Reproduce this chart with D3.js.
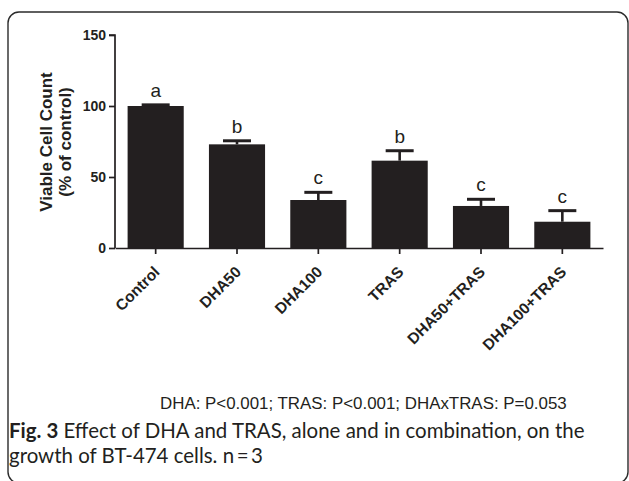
<!DOCTYPE html>
<html><head><meta charset="utf-8">
<script src="https://cdn.jsdelivr.net/npm/d3@7"></script>
<style>body{margin:0;background:#fff}svg{display:block}</style>
</head><body>
<svg id="c" width="629" height="481"></svg>
<script>
const categories = ["Control","DHA50","DHA100","TRAS","DHA50+TRAS","DHA100+TRAS"];
const means = [100, 73, 33.8, 61.5, 29.6, 18.5];
const errors = [0.8, 2.5, 5.4, 7.0, 4.7, 7.8];
const letters = ["a","b","c","b","c","c"];
const yTicks = [0, 50, 100, 150];
const statsText = "DHA: P<0.001; TRAS: P<0.001; DHAxTRAS: P=0.053";
const captionBold = "Fig. 3";
const captionLine1 = " Effect of DHA and TRAS, alone and in combination, on the";
const captionLine2 = "growth of BT-474 cells. n\u2009=\u20093";

const ink = "#231f20";
const sans = "Liberation Sans, Arial, Helvetica, sans-serif";
const svg = d3.select("#c");

// frame (bottom edge falls just outside the picture, as in the figure crop)
svg.append("rect").attr("x",8).attr("y",12).attr("width",620).attr("height",471)
  .attr("rx",11).attr("fill","none").attr("stroke","#2b2b2b").attr("stroke-width",1.4);

const x = d3.scaleBand().domain(categories).range([115,603]).paddingInner(0.31).paddingOuter(0.155);
const y = d3.scaleLinear().domain([0,150]).range([248,35]);

const g = svg.append("g");

// bars
g.selectAll("rect.bar").data(categories).join("rect").attr("class","bar")
  .attr("x",d=>x(d)).attr("width",x.bandwidth())
  .attr("y",(d,i)=>y(means[i])).attr("height",(d,i)=>y(0)-y(means[i]))
  .attr("fill",ink);

// error bars (upper only) + significance letters
const capW = 28;
categories.forEach((c,i)=>{
  const cx = x(c)+x.bandwidth()/2;
  const top = y(means[i]+errors[i]);
  g.append("line").attr("x1",cx).attr("x2",cx).attr("y1",y(means[i])).attr("y2",top)
    .attr("stroke",ink).attr("stroke-width",2.6);
  g.append("line").attr("x1",cx-capW/2).attr("x2",cx+capW/2).attr("y1",top).attr("y2",top)
    .attr("stroke",ink).attr("stroke-width",3);
  g.append("text").attr("x",cx).attr("y",top-8)
    .attr("text-anchor","middle").attr("font-family",sans)
    .attr("font-size",19).attr("fill",ink).text(letters[i]);
});

// y axis
const yAxis = g.append("g").attr("transform","translate(115,0)")
  .call(d3.axisLeft(y).tickValues(yTicks).tickSize(6).tickPadding(3).tickFormat(d3.format("d")));
yAxis.select(".domain").attr("stroke",ink).attr("stroke-width",1.7).attr("d","M-6,"+y(150)+"H0V"+y(0));
yAxis.selectAll(".tick line").attr("stroke",ink).attr("stroke-width",1.7);
yAxis.selectAll(".tick text").attr("font-family",sans)
  .attr("font-weight","bold").attr("font-size",14).attr("fill",ink);

// x axis
const xAxis = g.append("g").attr("transform","translate(0,"+y(0)+")")
  .call(d3.axisBottom(x).tickSize(6).tickSizeOuter(0));
xAxis.select(".domain").attr("stroke",ink).attr("stroke-width",1.7);
xAxis.selectAll(".tick line").attr("stroke",ink).attr("stroke-width",1.7);
xAxis.selectAll(".tick text").attr("font-family",sans)
  .attr("font-weight","bold").attr("font-size",15.5).attr("fill",ink)
  .attr("text-anchor","end").attr("dy",0).attr("y",0)
  .attr("transform","translate(5,25) rotate(-45)");

// y title
const yt = g.append("text").attr("transform","translate(52,142) rotate(-90)")
  .attr("text-anchor","middle").attr("font-family",sans)
  .attr("font-weight","bold").attr("font-size",17).attr("fill",ink);
yt.append("tspan").attr("x",0).attr("dy",0).text("Viable Cell Count");
yt.append("tspan").attr("x",0).attr("dy",18.5).text("(% of control)");

// stats text, fitted to the span it takes in the figure
const st = svg.append("text").attr("x",160).attr("y",409).attr("font-family",sans)
  .attr("font-size",17).attr("fill",ink).text(statsText);
const stW = st.node().getComputedTextLength();
st.attr("font-size",17*407/stW);

// caption
const capFont = "Lato, 'Open Sans', sans-serif";
const cap = svg.append("text").attr("x",9).attr("y",438).attr("font-family",capFont)
  .attr("font-size",20).attr("fill","#231f20");
cap.append("tspan").attr("font-weight","bold").text(captionBold);
cap.append("tspan").text(captionLine1);
const cw = cap.node().getComputedTextLength();
const capSize = 20*576/cw;
cap.attr("font-size",capSize);
svg.append("text").attr("x",9).attr("y",463).attr("font-family",capFont)
  .attr("font-size",capSize).attr("fill","#231f20").text(captionLine2);
</script>
</body></html>
